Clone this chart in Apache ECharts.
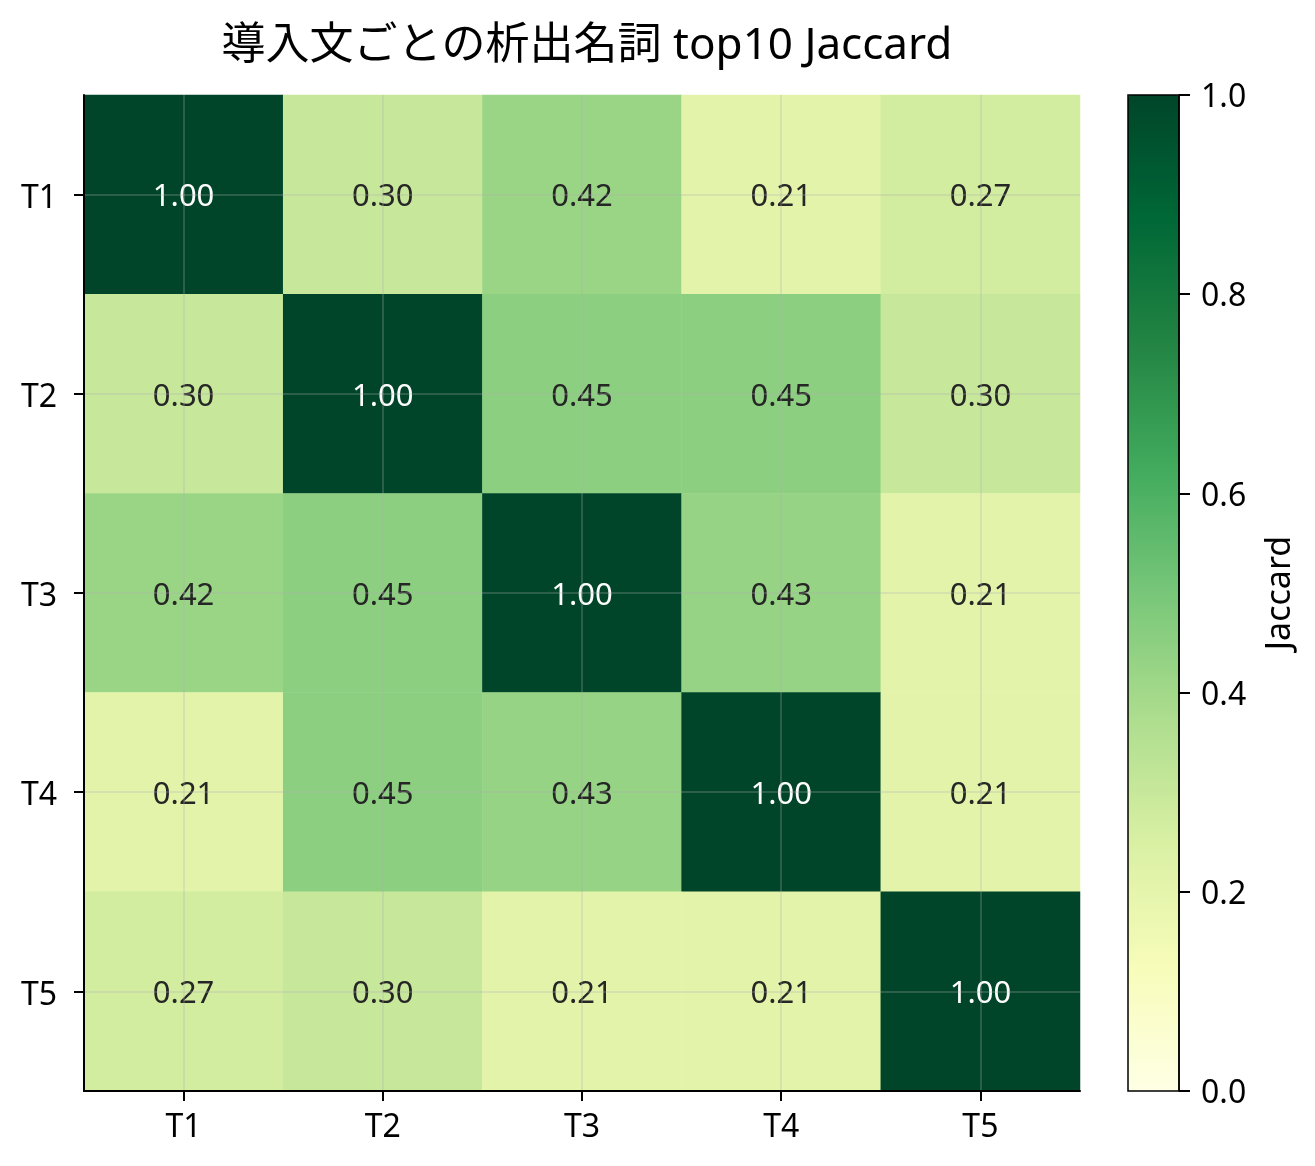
<!DOCTYPE html>
<html>
<head>
<meta charset="utf-8">
<script src="https://cdn.jsdelivr.net/npm/echarts@6/dist/echarts.min.js"></script>
<style>
html,body{margin:0;padding:0;background:#fff;}
#chart{width:1315px;height:1166px;}
</style>
</head>
<body>
<div id="chart"></div>
<script>
var titleText = '導入文ごとの析出名詞 top10 Jaccard';
var xCategories = ['T1', 'T2', 'T3', 'T4', 'T5'];
var yCategories = ['T1', 'T2', 'T3', 'T4', 'T5'];
var row1 = [1.00, 0.30, 0.42, 0.21, 0.27];
var row2 = [0.30, 1.00, 0.45, 0.45, 0.30];
var row3 = [0.42, 0.45, 1.00, 0.43, 0.21];
var row4 = [0.21, 0.45, 0.43, 1.00, 0.21];
var row5 = [0.27, 0.30, 0.21, 0.21, 1.00];
var colorbarTicks = [0, 0.2, 0.4, 0.6, 0.8, 1.0];
var colorbarLabel = 'Jaccard';
var ylgn = ['#ffffe5', '#f7fcb9', '#d9f0a3', '#addd8e', '#78c679', '#41ab5d', '#238443', '#006837', '#004529'];

var rows = [row1, row2, row3, row4, row5];
var data = [];
rows.forEach(function (r, yi) {
  r.forEach(function (v, xi) {
    data.push({
      value: [xi, yi, v],
      label: { color: v > 0.6 ? '#ffffff' : '#262626' }
    });
  });
});

var FONT = '"Noto Sans", "Noto Sans CJK JP", sans-serif';
var chart = echarts.init(document.getElementById('chart'));
chart.setOption({
  animation: false,
  backgroundColor: '#ffffff',
  title: {
    text: titleText,
    left: 582,
    top: 19,
    textAlign: 'center',
    textStyle: { fontFamily: FONT, fontSize: 44, fontWeight: 'normal', color: '#000' }
  },
  grid: [
    { left: 84, top: 95, width: 996, height: 996, containLabel: false },
    { left: 1128, top: 95, width: 51, height: 996, show: true, backgroundColor: 'transparent', borderColor: '#000', borderWidth: 1.5, z: 6 }
  ],
  xAxis: [
    {
      type: 'category', gridIndex: 0, data: xCategories, z: 3,
      axisLine: { show: true, lineStyle: { color: '#000', width: 2 } },
      axisTick: { show: true, alignWithLabel: true, length: 10, lineStyle: { color: '#000', width: 2 } },
      axisLabel: { fontFamily: FONT, fontSize: 32, color: '#000', margin: 21 },
      splitLine: { show: true, alignWithLabel: true, lineStyle: { color: 'rgba(176,176,176,0.35)', width: 1.5 } }
    },
    { type: 'value', gridIndex: 1, show: false, min: 0, max: 1 }
  ],
  yAxis: [
    {
      type: 'category', gridIndex: 0, data: yCategories, inverse: true, z: 3,
      axisLine: { show: true, lineStyle: { color: '#000', width: 2 } },
      axisTick: { show: true, alignWithLabel: true, length: 10, lineStyle: { color: '#000', width: 2 } },
      axisLabel: {
        fontFamily: FONT, fontSize: 32, color: '#000', margin: 27,
        formatter: function (v) { return '{a|' + v + '}'; },
        rich: { a: { fontFamily: FONT, fontSize: 32, color: '#000', padding: [8, 0, 0, 0] } }
      },
      splitLine: { show: true, alignWithLabel: true, lineStyle: { color: 'rgba(176,176,176,0.35)', width: 1.5 } }
    },
    {
      type: 'value', gridIndex: 1, position: 'right', min: colorbarTicks[0], max: colorbarTicks[colorbarTicks.length - 1], interval: 0.2, z: 7,
      name: colorbarLabel, nameLocation: 'middle', nameRotate: 90, nameGap: 84,
      nameTextStyle: { fontFamily: FONT, fontSize: 34, color: '#000' },
      axisLine: { show: true, onZero: false, lineStyle: { color: '#000', width: 1.5 } },
      axisTick: { show: true, inside: false, length: 11, lineStyle: { color: '#000', width: 2 } },
      axisLabel: {
        fontFamily: FONT, fontSize: 32, color: '#000', margin: 22,
        formatter: function (v) { return '{a|' + v.toFixed(1) + '}'; },
        rich: { a: { fontFamily: FONT, fontSize: 32, color: '#000', padding: [6, 0, 0, 0] } }
      },
      splitLine: { show: false }
    }
  ],
  visualMap: {
    type: 'continuous',
    seriesIndex: 0,
    min: 0, max: 1,
    orient: 'vertical',
    left: 1128, top: 95,
    itemWidth: 51, itemHeight: 996,
    padding: 0,
    calculable: false,
    hoverLink: false,
    z: 1,
    inRange: { color: ylgn }
  },
  series: [{
    type: 'heatmap',
    xAxisIndex: 0, yAxisIndex: 0,
    data: data,
    label: {
      show: true,
      fontFamily: FONT, fontSize: 31,
      offset: [0, 3],
      formatter: function (p) { return p.value[2].toFixed(2); }
    },
    emphasis: { disabled: true }
  }]
});
</script>
</body>
</html>
